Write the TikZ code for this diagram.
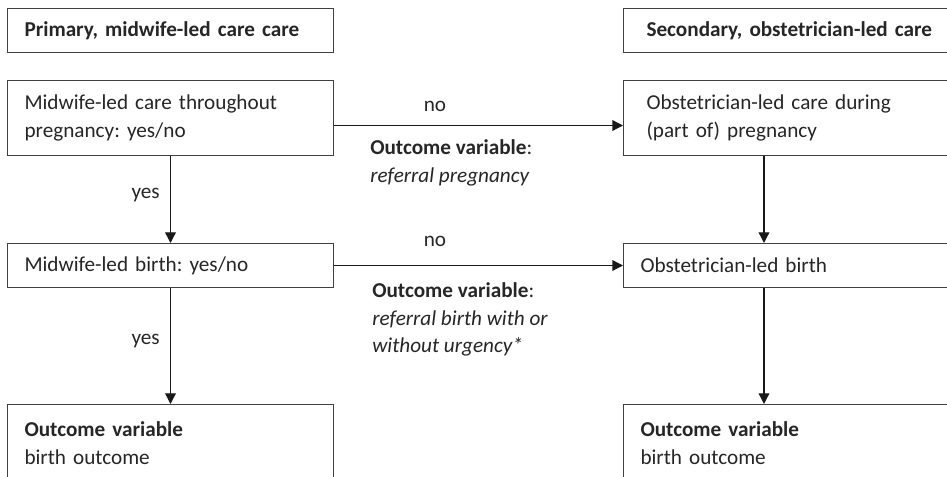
\documentclass[tikz,border=0pt]{standalone}
\usepackage{fontspec}
\setmainfont{Carlito}
\frenchspacing
\usetikzlibrary{arrows.meta,calc}
\begin{document}
\begin{tikzpicture}[x=0.75pt,y=-0.75pt,
  txt/.style={font=\fontsize{15.9}{21}\selectfont, text=black!85, inner sep=0pt},
  box/.style={txt, draw=black!75, line width=0.75pt, anchor=north west, align=left, inner ysep=0pt},
  lbox/.style={box, inner xsep=12.75pt, text width=219pt},
  rboxa/.style={box, inner xsep=17.25pt, text width=218.25pt},
  rboxb/.style={box, inner xsep=12.75pt, text width=227.25pt},
  arr/.style={draw=black!90, line width=1pt, -{Triangle[length=8pt,width=8pt]}},
  lab/.style={txt, anchor=base west}
]
\useasboundingbox (0,0) rectangle (947,477);
\clip (0,0) rectangle (947,477);
\fill[white] (0,0) rectangle (947,477);

% headers
\node[lbox, minimum height=33pt] (h1) at (7,8) {\textbf{Primary, midwife-led care care}};
\node[rboxa, minimum height=33pt] (h2) at (623,8) {\textbf{Secondary, obstetrician-led care}};

% row 1
\node[lbox, minimum height=56.25pt] (a1) at (7,80) {Midwife-led care throughout\\pregnancy: yes/no};
\node[rboxa, minimum height=56.25pt] (b1) at (623,80) {Obstetrician-led care during\\(part of) pregnancy};

% row 2
\node[lbox, minimum height=33pt] (a2) at (7,243) {Midwife-led birth: yes/no};
\node[rboxb, minimum height=33pt] (b2) at (623,243) {Obstetrician-led birth};

% row 3
\node[lbox, minimum height=58.5pt] (a3) at (7,404) {\textbf{Outcome variable}\\birth outcome};
\node[rboxb, minimum height=58.5pt] (b3) at (623,404) {\textbf{Outcome variable}\\birth outcome};

% arrows
\draw[arr] ([yshift=-5.625pt]a1.east) -- ([yshift=-5.625pt]b1.west);
\draw[arr] (a2.east) -- (b2.west);
\draw[arr] (a1.south) -- (a2.north);
\draw[arr] (a2.south) -- (a3.north);
\draw[arr] ([xshift=105.75pt]b1.south west) -- ([xshift=105.75pt]b2.north west);
\draw[arr] ([xshift=105.75pt]b2.south west) -- ([xshift=105.75pt]b3.north west);

% labels
\node[txt, anchor=base] (no1) at (435,112) {no};
\node[txt, anchor=base] (no2) at (435,247) {no};
\node[txt, anchor=base east] (yes1) at (160,199) {yes};
\node[txt, anchor=base east] (yes2) at (160,345) {yes};

\node[lab] (o1a) at (370,155) {\textbf{Outcome variable}:};
\node[lab] (o1b) at (370,183) {\textit{referral pregnancy}};
\node[lab] (o2a) at (372,298) {\textbf{Outcome variable}:};
\node[lab] (o2b) at (372,326) {\textit{referral birth with or}};
\node[lab] (o2c) at (372,353) {\textit{without urgency*}};
\end{tikzpicture}
\end{document}
